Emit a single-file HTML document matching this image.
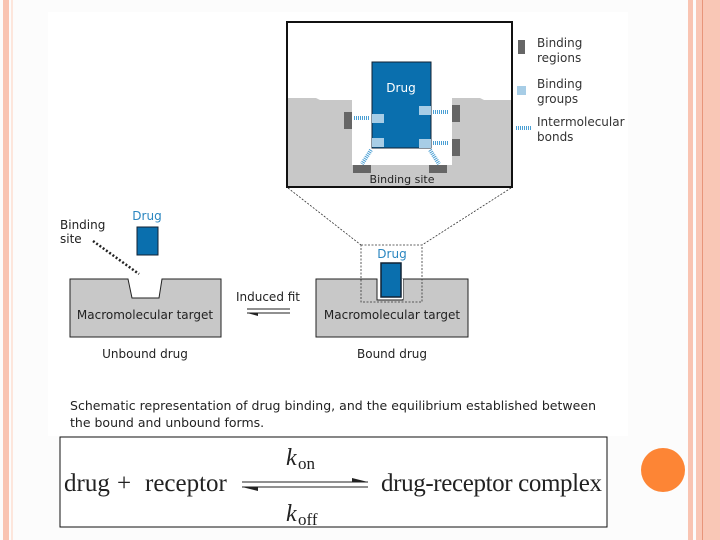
<!DOCTYPE html>
<html><head><style>
html,body{margin:0;padding:0;width:720px;height:540px;overflow:hidden;background:#fff}
svg{display:block}
text{font-family:"DejaVu Sans","Liberation Sans",sans-serif}
.t{font-family:"Liberation Serif",serif}
</style></head><body>
<svg width="720" height="540" viewBox="0 0 720 540" xmlns="http://www.w3.org/2000/svg">
<rect width="720" height="540" fill="#fcfcfc"/>
<rect x="3" y="0" width="6" height="540" fill="#f9c4b2"/>
<rect x="11" y="0" width="2" height="540" fill="#fde6dc"/>
<rect x="688" y="0" width="5" height="540" fill="#f9c4b2"/>
<rect x="696" y="0" width="24" height="540" fill="#f9c7b6"/>
<rect x="702" y="0" width="1" height="540" fill="#e8957a"/>
<rect x="48" y="12" width="580" height="424" fill="#fff"/>
<circle cx="663" cy="470" r="22" fill="#fd8535"/>

<rect x="287" y="22" width="225" height="165" fill="#fff"/>
<path d="M287 98 L316 98 L320 100 L352 100 L352 165 L452 165 L452 98 L480 98 L484 100 L512 100 L512 187 L287 187 Z" fill="#c8c8c8"/>
<rect x="287" y="22" width="225" height="165" fill="none" stroke="#111" stroke-width="2"/>
<rect x="344" y="112" width="8" height="17" fill="#666"/>
<rect x="452" y="105" width="8" height="17" fill="#666"/>
<rect x="452" y="139" width="8" height="17" fill="#666"/>
<rect x="353" y="165" width="18" height="8" fill="#666"/>
<rect x="429" y="165" width="18" height="8" fill="#666"/>
<rect x="372" y="62" width="59" height="86" fill="#0a6fae" stroke="#123" stroke-width="1"/>
<text x="401" y="92" font-size="12" fill="#fff" text-anchor="middle">Drug</text>
<rect x="372" y="114" width="12" height="9" fill="#a7cde6"/>
<rect x="372" y="138" width="12" height="9" fill="#a7cde6"/>
<rect x="419" y="106" width="12" height="9" fill="#a7cde6"/>
<rect x="419" y="139" width="12" height="9" fill="#a7cde6"/>
<g stroke="#4a9fd4" stroke-width="4" stroke-dasharray="1 1" fill="none">
<line x1="354" y1="118" x2="370" y2="118"/>
<line x1="433" y1="112" x2="449" y2="112"/>
<line x1="433" y1="143" x2="449" y2="143"/>
<line x1="371" y1="150" x2="362" y2="164"/>
<line x1="430" y1="150" x2="439" y2="164"/>
</g>
<text x="402" y="183" font-size="11" fill="#222" text-anchor="middle">Binding site</text>
<rect x="518" y="40" width="7" height="14" fill="#666"/>
<text x="537" y="47" font-size="12" fill="#333">Binding</text>
<text x="537" y="62" font-size="12" fill="#333">regions</text>
<rect x="517" y="86" width="9" height="9" fill="#a7cde6"/>
<text x="537" y="88" font-size="12" fill="#333">Binding</text>
<text x="537" y="103" font-size="12" fill="#333">groups</text>
<line x1="516" y1="128" x2="532" y2="128" stroke="#4a9fd4" stroke-width="4" stroke-dasharray="1 1"/>
<text x="537" y="126" font-size="12" fill="#333">Intermolecular</text>
<text x="537" y="141" font-size="12" fill="#333">bonds</text>
<line x1="288" y1="188" x2="361" y2="245" stroke="#333" stroke-width="0.8" stroke-dasharray="2 1.5"/>
<line x1="511" y1="188" x2="422" y2="245" stroke="#333" stroke-width="0.8" stroke-dasharray="2 1.5"/>

<path d="M70 279 L128 279 L132 298 L159 298 L162 279 L221 279 L221 337 L70 337 Z" fill="#c8c8c8" stroke="#222" stroke-width="1"/>
<text x="145" y="319" font-size="12" fill="#222" text-anchor="middle">Macromolecular target</text>
<rect x="137" y="227" width="21" height="28" fill="#0a6fae" stroke="#123" stroke-width="1"/>
<text x="147" y="220" font-size="12" fill="#2a86c0" text-anchor="middle">Drug</text>
<text x="60" y="229" font-size="12" fill="#222">Binding</text>
<text x="60" y="243" font-size="12" fill="#222">site</text>
<line x1="93" y1="241" x2="139" y2="274" stroke="#222" stroke-width="2.5" stroke-dasharray="2 2"/>
<text x="145" y="358" font-size="12" fill="#222" text-anchor="middle">Unbound drug</text>
<text x="268" y="301" font-size="12" fill="#222" text-anchor="middle">Induced fit</text>
<line x1="247" y1="309" x2="290" y2="309" stroke="#222" stroke-width="1"/>
<line x1="247" y1="313" x2="290" y2="313" stroke="#222" stroke-width="1"/>
<path d="M247 313 L258 316 L258 313 Z" fill="#222"/>
<path d="M316 279 L377 279 L377 300 L403 300 L403 279 L468 279 L468 337 L316 337 Z" fill="#c8c8c8" stroke="#222" stroke-width="1"/>
<rect x="378" y="279" width="25" height="20" fill="#fff"/>
<rect x="381" y="263" width="20" height="34" fill="#0a6fae" stroke="#123" stroke-width="1.5"/>
<rect x="361" y="245" width="61" height="57" fill="none" stroke="#333" stroke-width="0.8" stroke-dasharray="2 1.5"/>
<text x="392" y="258" font-size="12" fill="#2a86c0" text-anchor="middle">Drug</text>
<text x="392" y="319" font-size="12" fill="#222" text-anchor="middle">Macromolecular target</text>
<text x="392" y="358" font-size="12" fill="#222" text-anchor="middle">Bound drug</text>
<text x="70" y="410" font-size="12.5" fill="#222" textLength="526">Schematic representation of drug binding, and the equilibrium established between</text>
<text x="70" y="427" font-size="12.5" fill="#222">the bound and unbound forms.</text>
<rect x="60" y="437" width="547" height="90" fill="#fff" stroke="#111" stroke-width="1"/>
<text class="t" x="64" y="491" font-size="25" fill="#222">drug</text>
<text class="t" x="117" y="491" font-size="25" fill="#222">+</text>
<text class="t" x="145" y="491" font-size="25" fill="#222">receptor</text>
<text class="t" x="381" y="491" font-size="25" fill="#222" textLength="221">drug-receptor complex</text>
<text class="t" x="286" y="465" font-size="24" font-style="italic" fill="#222">k</text>
<text class="t" x="298" y="469" font-size="17" fill="#222">on</text>
<text class="t" x="286" y="521" font-size="24" font-style="italic" fill="#222">k</text>
<text class="t" x="298" y="525" font-size="17" fill="#222">off</text>
<line x1="242" y1="482" x2="368" y2="482" stroke="#222" stroke-width="1"/>
<line x1="242" y1="487" x2="368" y2="487" stroke="#222" stroke-width="1"/>
<path d="M368 482 L352 478 L352 482 Z" fill="#222"/>
<path d="M242 487 L258 491 L258 487 Z" fill="#222"/>
</svg>
</body></html>
